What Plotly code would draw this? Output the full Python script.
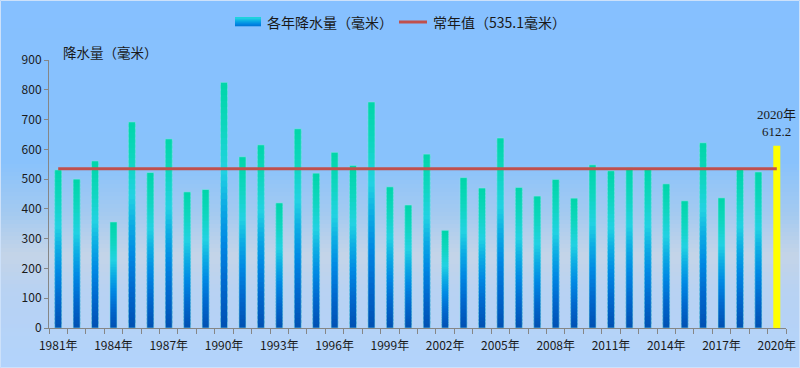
import plotly.graph_objects as go

# ---------------- data ----------------
years = ["1981年", "1982年", "1983年", "1984年", "1985年", "1986年", "1987年", "1988年",
         "1989年", "1990年", "1991年", "1992年", "1993年", "1994年", "1995年", "1996年",
         "1997年", "1998年", "1999年", "2000年", "2001年", "2002年", "2003年", "2004年",
         "2005年", "2006年", "2007年", "2008年", "2009年", "2010年", "2011年", "2012年",
         "2013年", "2014年", "2015年", "2016年", "2017年", "2018年", "2019年", "2020年"]
precip = [531, 500, 561, 356, 692, 522, 635, 457, 465, 825,
          575, 615, 420, 669, 520, 590, 546, 759, 474, 413,
          584, 328, 505, 470, 638, 472, 443, 499, 436, 548,
          528, 539, 536, 484, 427, 622, 437, 534, 524, 612.2]
normal_value = 535.1
tick_labels = ["1981年", "1984年", "1987年", "1990年", "1993年", "1996年", "1999年",
               "2002年", "2005年", "2008年", "2011年", "2014年", "2017年", "2020年"]
series_name = "各年降水量（毫米）"
normal_name = "常年值（535.1毫米）"
y_title = "降水量（毫米）"
highlight_label = "2020年<br>612.2"

# ---------------- layout helpers ----------------
W, H = 800, 368
L, R, T, B = 49, 14, 60, 40
PW, PH = W - L - R, H - T - B


def px_x(px):
    return (px - L) / PW


def px_y(py):
    return (H - B - py) / PH


def interp(stops, t):
    for (t0, c0), (t1, c1) in zip(stops[:-1], stops[1:]):
        if t0 <= t <= t1:
            f = 0 if t1 == t0 else (t - t0) / (t1 - t0)
            return tuple(int(round(a + (b - a) * f)) for a, b in zip(c0, c1))
    return stops[-1][1] if t > stops[-1][0] else stops[0][1]


def rgb(c):
    return "rgb(%d,%d,%d)" % c


bar_stops = [(0.0, (0, 80, 178)), (0.18, (0, 104, 206)), (0.35, (0, 136, 228)),
             (0.5, (12, 172, 228)), (0.64, (34, 210, 226)), (0.82, (14, 214, 190)),
             (1.0, (0, 214, 168))]
bg_stops = [(0, (134, 192, 255)), (160, (136, 194, 252)), (215, (165, 202, 240)),
            (255, (196, 212, 232)), (290, (184, 210, 242)), (368, (178, 211, 252))]

n = len(years)
xs = list(range(n))
grad_x = xs[:-1]
grad_v = precip[:-1]
BW = 0.38
N = 40

fig = go.Figure()

# gradient bars built from stacked slices
for k in range(N):
    col = rgb(interp(bar_stops, (k + 0.5) / N))
    top = min(k + 1.6, N)
    fig.add_trace(go.Bar(
        x=grad_x, y=[v * (top - k) / N for v in grad_v],
        base=[v * k / N for v in grad_v], width=BW,
        marker=dict(color=col, line=dict(width=0)),
        showlegend=False, hoverinfo="skip"))

# soft outline
fig.add_trace(go.Bar(
    x=grad_x, y=grad_v, width=BW,
    marker=dict(color="rgba(0,0,0,0)", line=dict(color="rgba(140,225,235,0.55)", width=1)),
    showlegend=False, hoverinfo="skip"))

# highlighted last year
fig.add_trace(go.Bar(
    x=[xs[-1]], y=[precip[-1]], width=BW,
    marker=dict(color="#ffff00", line=dict(width=0)),
    showlegend=False, hoverinfo="skip"))

# normal line
fig.add_trace(go.Scatter(
    x=xs, y=[normal_value] * n, mode="lines",
    line=dict(color="#c0504d", width=3),
    showlegend=False, hoverinfo="skip"))

shapes = []
# background gradient
step = 4
for py in range(0, H, step):
    c = interp(bg_stops, py + step / 2)
    shapes.append(dict(type="rect", xref="paper", yref="paper",
                       x0=px_x(-2), x1=px_x(W + 2), y0=px_y(py + step + 0.6), y1=px_y(py),
                       fillcolor=rgb(c), line=dict(width=0), layer="below"))
# border
shapes.append(dict(type="rect", xref="paper", yref="paper",
                   x0=px_x(0.5), x1=px_x(W - 0.5), y0=px_y(H - 0.5), y1=px_y(0.5),
                   line=dict(color="rgb(205,225,250)", width=1), layer="below"))

# legend icon 1 (gradient)
icon_x0, icon_x1, icon_y0, icon_y1 = 235, 261, 17, 26
nstr = 9
for i in range(nstr):
    t = 1 - (i + 0.5) / nstr
    c = interp(bar_stops, 0.25 + 0.45 * t)
    ya = icon_y0 + (icon_y1 - icon_y0) * i / nstr
    yb = icon_y0 + (icon_y1 - icon_y0) * (i + 1) / nstr
    shapes.append(dict(type="rect", xref="paper", yref="paper",
                       x0=px_x(icon_x0), x1=px_x(icon_x1), y0=px_y(yb + 0.3), y1=px_y(ya),
                       fillcolor=rgb(c), line=dict(width=0)))
# legend icon 2 (line)
shapes.append(dict(type="line", xref="paper", yref="paper",
                   x0=px_x(399), x1=px_x(427), y0=px_y(22), y1=px_y(22),
                   line=dict(color="#c0504d", width=3)))

cjk = "Noto Sans CJK SC, Noto Sans, sans-serif"
txt_col = "#1a1a1a"
annotations = [
    dict(xref="paper", yref="paper", x=px_x(265), y=px_y(22), xanchor="left", yanchor="middle",
         text=series_name, showarrow=False, font=dict(family=cjk, size=14, color=txt_col)),
    dict(xref="paper", yref="paper", x=px_x(431), y=px_y(22), xanchor="left", yanchor="middle",
         text=normal_name, showarrow=False, font=dict(family=cjk, size=14, color=txt_col)),
    dict(xref="paper", yref="paper", x=px_x(61), y=px_y(52), xanchor="left", yanchor="middle",
         text=y_title, showarrow=False, font=dict(family=cjk, size=13.5, color=txt_col)),
    dict(x=xs[-1], y=precip[-1], xref="x", yref="y", text=highlight_label, showarrow=False,
         yanchor="bottom", yshift=5,
         font=dict(family="Liberation Serif, Noto Sans CJK SC, serif", size=13, color=txt_col)),
]

fig.update_layout(
    width=W, height=H,
    margin=dict(l=L, r=R, t=T, b=B, pad=0, autoexpand=False),
    paper_bgcolor="rgb(178,211,252)",
    plot_bgcolor="rgba(0,0,0,0)",
    barmode="overlay",
    showlegend=False,
    shapes=shapes,
    annotations=annotations,
    font=dict(family=cjk, size=12, color=txt_col),
    xaxis=dict(range=[-0.5, n - 0.5], showgrid=False, zeroline=False,
               showline=True, linecolor="#868686", linewidth=1,
               tickmode="array", tickvals=[years.index(t) for t in tick_labels],
               ticktext=tick_labels, ticks="", ticklabelstandoff=7,
               tickfont=dict(family=cjk, size=12, color=txt_col),
               minor=dict(tickmode="linear", tick0=-0.5, dtick=1, ticks="outside",
                          ticklen=5, tickcolor="#868686", tickwidth=1, showgrid=False)),
    yaxis=dict(range=[0, 900], dtick=100, showgrid=False, zeroline=False,
               showline=True, linecolor="#868686", linewidth=1,
               ticks="outside", ticklen=4, tickcolor="#868686",
               tickfont=dict(family=cjk, size=12, color=txt_col)),
)

fig.write_html("out.html", config={"displayModeBar": False},
               post_script="document.body.style.margin='0';document.body.style.overflow='hidden';")
